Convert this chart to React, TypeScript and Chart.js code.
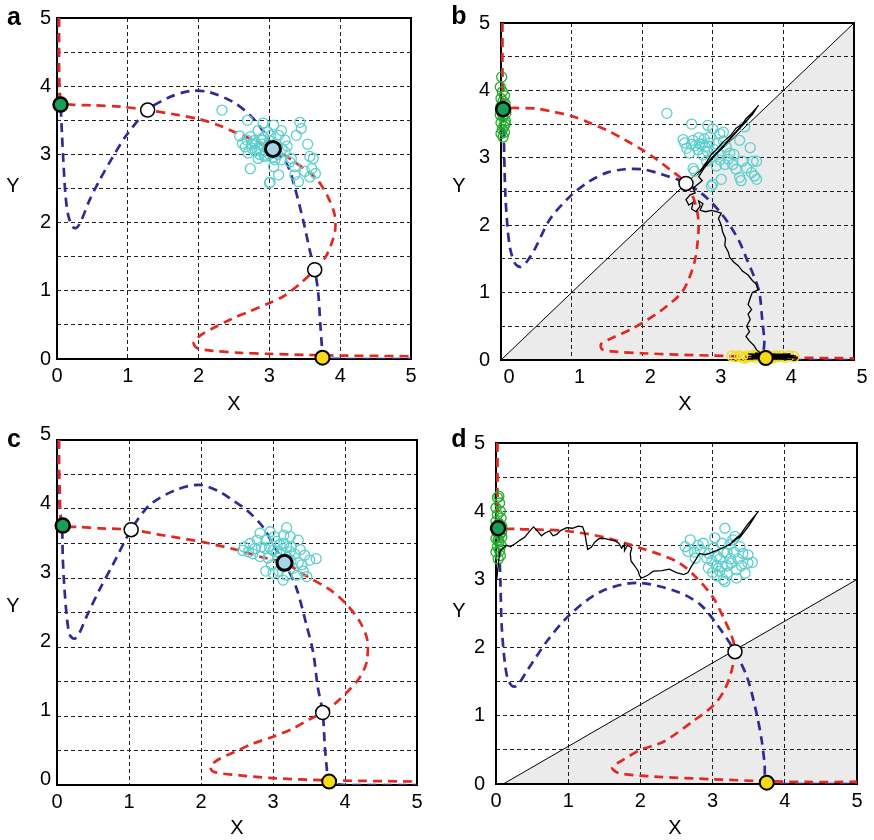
import React, { useEffect, useRef } from 'react';
import { Chart, registerables } from 'chart.js';

Chart.register(...registerables);

const FONT = "'Liberation Sans', Arial, Helvetica, sans-serif";

// ---- tick labels ----
const xTickLabels = ['0', '1', '2', '3', '4', '5'];
const yTickLabels = ['0', '1', '2', '3', '4', '5'];

// ---- colours ----
const RED = '#e3281f';
const BLUE = '#2f2b96';
const CYAN = '#5ccfcd';
const GREEN_FILL = '#15a155';
const LIGHTBLUE = '#a6d5ea';
const YELLOW = '#f7d916';
const GREEN_RING = '#22ad2c';
const YELLOW_RING = '#f0dc10';

// ================= panel a =================
const aRed = [
  [0.03, 5.0], [0.03, 4.6], [0.03, 4.2], [0.04, 3.9], [0.07, 3.76], [0.2, 3.73], [0.5, 3.72], [0.9, 3.7],
  [1.28, 3.65], [1.7, 3.58], [2.0, 3.52], [2.3, 3.42], [2.5, 3.33], [2.75, 3.22], [2.95, 3.12], [3.1, 3.05],
  [3.3, 2.93], [3.5, 2.78], [3.67, 2.64], [3.83, 2.37], [3.92, 2.12], [3.93, 1.9], [3.88, 1.7], [3.79, 1.49],
  [3.64, 1.31], [3.45, 1.12], [3.2, 0.92], [3.0, 0.82], [2.7, 0.69], [2.45, 0.58], [2.2, 0.45], [2.03, 0.35],
  [1.93, 0.24], [1.98, 0.16], [2.2, 0.12], [2.6, 0.09], [3.0, 0.075], [3.5, 0.06], [4.0, 0.05], [4.5, 0.045], [5.0, 0.04],
];
const aBlue = [
  [0.02, 5.0], [0.02, 4.5], [0.03, 4.0], [0.05, 3.73], [0.07, 3.3], [0.09, 2.9], [0.12, 2.4], [0.16, 2.1],
  [0.22, 1.94], [0.27, 1.92], [0.33, 2.0], [0.46, 2.33], [0.6, 2.62], [0.77, 2.93], [0.98, 3.28], [1.28, 3.65],
  [1.57, 3.83], [1.88, 3.93], [2.16, 3.91], [2.5, 3.76], [2.73, 3.57], [2.92, 3.33], [3.05, 3.08], [3.25, 2.85],
  [3.36, 2.51], [3.48, 2.02], [3.58, 1.55], [3.64, 1.31], [3.69, 0.96], [3.72, 0.5], [3.74, 0.2], [3.75, 0.02],
  [4.0, 0.0], [5.0, 0.0],
];
const aCyan = [
  [2.33, 3.65], [2.69, 3.5], [2.91, 3.46], [3.43, 3.47], [3.06, 3.43], [3.17, 3.35], [3.38, 3.28], [2.58, 3.27],
  [2.73, 3.26], [3.54, 3.15], [2.66, 3.11], [2.8, 3.16], [2.89, 3.21], [3.57, 2.97], [3.62, 2.94], [3.22, 3.04],
  [3.29, 2.89], [3.36, 2.82], [2.73, 2.79], [3.06, 2.82], [3.13, 2.7], [3.36, 2.7], [3.41, 2.6], [3.57, 2.67],
  [3.6, 2.79], [3.01, 2.59], [2.84, 2.94], [2.94, 2.99], [2.75, 3.09], [2.68, 3.21], [3.22, 3.21], [3.13, 3.28],
  [2.84, 3.35], [2.98, 3.33], [3.31, 2.94], [3.17, 2.92], [3.08, 2.92], [2.85, 3.1], [2.9, 3.15], [2.95, 3.05],
  [3.0, 3.2], [2.8, 3.05], [2.92, 3.25], [3.0, 3.0], [2.75, 3.15], [2.97, 3.12], [3.1, 3.15], [2.86, 3.0],
  [2.7, 3.02], [3.05, 2.95], [2.93, 2.97], [2.78, 3.2], [3.12, 3.0], [3.02, 3.28], [3.18, 3.08], [3.25, 3.12],
  [2.62, 3.16], [3.45, 3.38], [3.5, 2.75], [3.65, 2.72], [3.0, 2.58],
];
const aGreenPt = [[0.05, 3.73]];
const aWhitePts = [[1.28, 3.65], [3.64, 1.31]];
const aCenterPt = [[3.05, 3.08]];
const aYellowPt = [[3.75, 0.02]];

// ================= panel b =================
const bRed = [
  [0.02, 5.0], [0.02, 4.6], [0.02, 4.2], [0.03, 3.9], [0.06, 3.75], [0.2, 3.74], [0.5, 3.73], [0.75, 3.68],
  [1.0, 3.62], [1.25, 3.52], [1.5, 3.41], [1.75, 3.27], [2.0, 3.12], [2.2, 2.98], [2.4, 2.82], [2.55, 2.7],
  [2.62, 2.62], [2.72, 2.42], [2.78, 2.2], [2.8, 2.0], [2.78, 1.7], [2.74, 1.45], [2.66, 1.2], [2.56, 1.0],
  [2.42, 0.86], [2.25, 0.72], [2.05, 0.58], [1.85, 0.46], [1.6, 0.34], [1.42, 0.24], [1.43, 0.16], [1.65, 0.12],
  [2.0, 0.1], [2.5, 0.08], [3.0, 0.065], [3.5, 0.05], [4.0, 0.04], [4.5, 0.03], [5.0, 0.025],
];
const bBlue = [
  [0.01, 5.0], [0.01, 4.5], [0.02, 4.0], [0.03, 3.72], [0.04, 3.3], [0.06, 2.5], [0.09, 2.0], [0.13, 1.65],
  [0.2, 1.43], [0.28, 1.38], [0.36, 1.45], [0.48, 1.65], [0.7, 2.1], [1.0, 2.45], [1.25, 2.65], [1.5, 2.78],
  [1.75, 2.83], [2.0, 2.83], [2.2, 2.78], [2.35, 2.73], [2.5, 2.68], [2.62, 2.62], [2.78, 2.52], [2.92, 2.4],
  [3.1, 2.2], [3.24, 2.0], [3.38, 1.75], [3.48, 1.5], [3.58, 1.25], [3.66, 1.0], [3.7, 0.6], [3.73, 0.3],
  [3.74, 0.05], [4.0, 0.0], [5.0, 0.0],
];
const bDiagonal = [[0, 0], [5, 5]];
const bCyan = [
  [2.35, 3.66], [2.7, 3.5], [2.93, 3.48], [3.0, 3.43], [3.45, 3.46], [3.38, 3.26], [3.53, 3.15], [2.58, 3.27],
  [2.72, 3.26], [2.63, 3.14], [2.67, 3.07], [2.81, 3.21], [2.96, 3.31], [3.1, 3.36], [3.19, 3.16], [3.24, 3.07],
  [3.1, 2.97], [3.17, 2.9], [3.33, 2.83], [3.38, 2.71], [3.57, 2.95], [3.62, 2.95], [3.55, 2.78], [3.59, 2.73],
  [3.62, 2.68], [3.4, 2.66], [3.12, 2.68], [3.0, 2.61], [2.98, 2.58], [2.74, 2.8], [2.91, 2.95], [3.0, 3.02],
  [2.86, 3.04], [2.79, 3.12], [3.05, 3.21], [2.89, 3.16], [2.85, 3.2], [2.92, 3.1], [2.75, 3.18], [3.02, 3.12],
  [2.88, 3.28], [3.08, 3.05], [2.95, 3.22], [3.15, 3.25], [2.7, 3.2], [3.22, 2.98], [3.28, 2.9], [3.05, 2.88],
  [2.8, 3.3], [3.15, 3.38], [2.6, 3.22], [3.48, 2.85], [3.42, 2.95], [3.3, 3.05], [2.72, 2.84],
];
const bGreenRings = [
  [0.01, 4.2], [-0.01, 4.05], [0.02, 3.98], [0.05, 3.92], [0.0, 3.88], [0.03, 3.84], [0.06, 3.8], [0.0, 3.76],
  [0.04, 3.7], [0.07, 3.66], [-0.01, 3.64], [0.03, 3.6], [0.06, 3.55], [0.0, 3.52], [0.04, 3.47], [0.02, 3.42],
  [0.05, 3.38], [0.0, 3.36], [0.03, 3.31], [0.06, 3.5], [0.01, 3.68],
];
const bYellowRings = [
  [3.27, 0.06], [3.32, 0.05], [3.38, 0.06], [3.42, 0.04], [3.48, 0.06], [3.52, 0.05], [3.56, 0.06], [3.6, 0.04],
  [3.66, 0.06], [3.7, 0.05], [3.78, 0.06], [3.82, 0.04], [3.88, 0.06], [3.92, 0.05], [3.97, 0.06], [4.02, 0.04],
  [4.08, 0.06], [4.15, 0.05], [3.45, 0.03], [3.85, 0.03], [3.62, 0.07], [3.74, 0.07],
];
const bTrajectory = [
  [3.65, 3.78], [3.55, 3.66], [3.47, 3.58], [3.42, 3.5], [3.33, 3.44], [3.25, 3.33], [3.15, 3.24], [3.05, 3.12],
  [2.98, 3.05], [2.92, 2.95], [2.87, 2.88], [2.82, 2.8], [2.88, 2.86], [2.97, 2.98], [3.08, 3.1], [3.2, 3.24],
  [3.32, 3.38], [3.45, 3.52], [3.56, 3.64], [3.62, 3.74], [3.5, 3.57], [3.35, 3.4], [3.18, 3.2], [3.0, 3.0],
  [2.88, 2.85], [2.8, 2.72], [2.85, 2.66], [2.78, 2.6], [2.72, 2.55], [2.75, 2.48], [2.68, 2.45], [2.62, 2.38],
  [2.66, 2.3], [2.72, 2.34], [2.7, 2.24], [2.76, 2.2], [2.82, 2.28], [2.8, 2.36], [2.86, 2.32], [2.82, 2.22],
  [2.9, 2.2], [2.98, 2.22], [3.05, 2.2], [3.12, 2.18], [3.08, 2.1], [3.12, 2.0], [3.14, 1.9], [3.18, 1.8],
  [3.17, 1.7], [3.22, 1.6], [3.24, 1.52], [3.3, 1.45], [3.36, 1.4], [3.42, 1.32], [3.5, 1.26], [3.56, 1.18],
  [3.62, 1.12], [3.64, 1.04], [3.56, 1.0], [3.53, 0.92], [3.5, 0.82], [3.55, 0.75], [3.5, 0.68], [3.53, 0.6],
  [3.48, 0.5], [3.52, 0.42], [3.47, 0.35], [3.52, 0.28], [3.58, 0.22], [3.62, 0.15], [3.68, 0.1], [3.72, 0.06],
  [3.5, 0.05], [3.9, 0.07], [4.12, 0.05], [3.55, 0.03], [4.05, 0.02], [3.6, 0.06], [4.15, 0.07], [3.52, 0.08],
  [4.0, 0.03], [3.5, 0.09], [4.18, 0.06], [3.48, 0.01], [4.1, 0.09], [3.55, 0.07], [4.2, 0.03], [3.6, 0.1],
  [4.05, 0.08], [3.5, 0.02], [4.12, 0.01], [3.58, 0.04], [3.7, 0.04],
];
const bGreenPt = [[0.03, 3.72]];
const bWhitePts = [[2.62, 2.62]];
const bYellowPt = [[3.75, 0.03]];

// ================= panel c =================
const cRed = [
  [0.03, 5.0], [0.03, 4.6], [0.04, 4.2], [0.05, 3.9], [0.09, 3.76], [0.3, 3.74], [0.6, 3.72], [1.03, 3.7],
  [1.47, 3.62], [1.98, 3.53], [2.49, 3.41], [2.85, 3.3], [3.16, 3.22], [3.46, 3.03], [3.79, 2.83], [4.02, 2.62],
  [4.21, 2.36], [4.31, 2.1], [4.3, 1.78], [4.2, 1.55], [4.06, 1.38], [3.85, 1.17], [3.69, 1.05], [3.5, 0.95],
  [3.28, 0.82], [3.0, 0.7], [2.72, 0.6], [2.45, 0.47], [2.26, 0.38], [2.13, 0.27], [2.18, 0.19], [2.54, 0.14],
  [3.0, 0.1], [3.7, 0.07], [4.2, 0.06], [5.0, 0.05],
];
const cBlue = [
  [0.02, 5.0], [0.02, 4.5], [0.04, 4.0], [0.07, 3.75], [0.08, 3.3], [0.1, 2.9], [0.14, 2.4], [0.18, 2.17],
  [0.24, 2.12], [0.3, 2.18], [0.41, 2.44], [0.59, 2.83], [0.78, 3.2], [1.03, 3.7], [1.29, 4.06], [1.66, 4.28],
  [1.98, 4.35], [2.26, 4.25], [2.45, 4.12], [2.63, 3.99], [2.86, 3.74], [3.02, 3.45], [3.16, 3.22], [3.32, 2.87],
  [3.46, 2.34], [3.56, 1.91], [3.62, 1.43], [3.69, 1.05], [3.72, 0.56], [3.75, 0.2], [3.76, 0.05], [4.0, 0.0],
  [5.0, 0.0],
];
const cCyan = [
  [3.19, 3.73], [2.68, 3.5], [2.66, 3.38], [2.82, 3.65], [2.96, 3.67], [3.35, 3.55], [3.38, 3.41], [3.44, 3.33],
  [3.51, 3.26], [3.47, 3.02], [3.14, 2.97], [2.98, 3.19], [2.82, 3.31], [2.89, 3.43], [3.05, 3.53], [3.24, 3.38],
  [3.28, 3.14], [3.0, 3.07], [3.1, 3.48], [2.75, 3.43], [3.24, 3.6], [3.4, 3.19], [3.07, 3.29], [2.93, 3.29],
  [3.19, 3.04], [3.33, 3.04], [2.84, 3.45], [3.19, 3.45], [3.0, 3.4], [3.1, 3.35], [3.15, 3.5], [3.05, 3.38],
  [2.95, 3.45], [3.2, 3.3], [3.25, 3.25], [3.12, 3.18], [3.3, 3.35], [2.9, 3.55], [3.02, 3.6], [3.15, 3.62],
  [2.78, 3.55], [2.72, 3.35], [2.6, 3.45], [3.35, 3.22], [3.42, 3.1], [3.25, 3.45], [3.08, 3.1], [2.9, 3.1],
  [2.58, 3.4], [3.6, 3.28],
];
const cGreenPt = [[0.08, 3.76]];
const cWhitePts = [[1.03, 3.7], [3.69, 1.05]];
const cCenterPt = [[3.16, 3.22]];
const cYellowPt = [[3.78, 0.05]];

// ================= panel d =================
const dRed = [
  [0.02, 5.0], [0.02, 4.6], [0.02, 4.2], [0.03, 3.9], [0.06, 3.76], [0.3, 3.74], [0.6, 3.73], [0.98, 3.71],
  [1.49, 3.62], [2.0, 3.46], [2.51, 3.26], [2.78, 3.02], [3.01, 2.73], [3.15, 2.44], [3.27, 2.15], [3.31, 1.94],
  [3.25, 1.61], [3.15, 1.35], [3.01, 1.15], [2.74, 0.93], [2.32, 0.62], [2.0, 0.5], [1.77, 0.36], [1.61, 0.24],
  [1.7, 0.16], [2.18, 0.11], [3.0, 0.07], [3.76, 0.04], [4.3, 0.03], [5.0, 0.03],
];
const dBlue = [
  [0.01, 5.0], [0.01, 4.5], [0.02, 4.0], [0.03, 3.76], [0.05, 3.3], [0.06, 3.0], [0.08, 2.3], [0.12, 1.8],
  [0.16, 1.55], [0.22, 1.44], [0.29, 1.44], [0.43, 1.66], [0.71, 2.1], [1.03, 2.49], [1.45, 2.82], [1.95, 2.95],
  [2.51, 2.82], [2.83, 2.63], [3.06, 2.34], [3.31, 1.94], [3.48, 1.56], [3.61, 1.03], [3.68, 0.64], [3.72, 0.3],
  [3.75, 0.03], [4.0, 0.0], [5.0, 0.0],
];
const dDiagonal = [[0.1, 0], [5, 3.0]];
const dCyan = [
  [3.17, 3.75], [2.69, 3.58], [2.66, 3.41], [2.76, 3.31], [2.87, 3.53], [3.03, 3.61], [3.31, 3.63], [3.38, 3.48],
  [3.49, 3.36], [3.49, 3.24], [3.45, 3.09], [3.33, 3.02], [3.17, 2.97], [3.06, 3.05], [2.94, 3.17], [2.92, 3.31],
  [3.06, 3.34], [3.2, 3.39], [3.26, 3.24], [3.13, 3.19], [3.01, 3.46], [3.24, 3.51], [2.83, 3.44], [3.33, 3.14],
  [3.2, 3.09], [2.99, 3.27], [3.13, 3.53], [3.1, 3.3], [3.15, 3.4], [3.25, 3.3], [3.05, 3.2], [3.2, 3.2],
  [3.3, 3.4], [3.1, 3.12], [2.95, 3.38], [3.35, 3.3], [3.15, 3.0], [2.8, 3.5], [2.75, 3.4], [3.4, 3.2],
  [3.0, 3.1], [3.28, 3.58], [2.62, 3.48], [3.55, 3.25], [3.42, 3.38],
];
const dGreenRings = [
  [0.02, 4.2], [0.05, 4.12], [0.0, 4.05], [0.06, 4.0], [0.02, 3.95], [0.07, 3.9], [0.0, 3.85], [0.04, 3.82],
  [0.08, 3.78], [0.01, 3.7], [0.05, 3.66], [0.08, 3.62], [0.0, 3.6], [0.04, 3.55], [0.07, 3.5], [0.02, 3.48],
  [0.05, 3.42], [0.0, 3.4], [0.06, 3.35], [0.03, 3.3], [0.04, 4.22], [0.08, 3.7], [-0.01, 3.75], [0.03, 3.58],
];
const dTrajectory = [
  [3.63, 3.99], [3.52, 3.85], [3.44, 3.74], [3.38, 3.65], [3.3, 3.58], [3.38, 3.62], [3.5, 3.78], [3.6, 3.95],
  [3.48, 3.8], [3.36, 3.62], [3.25, 3.52], [3.12, 3.45], [3.0, 3.4], [2.9, 3.36], [2.82, 3.38], [2.76, 3.28],
  [2.7, 3.18], [2.66, 3.1], [2.6, 3.07], [2.5, 3.1], [2.4, 3.15], [2.3, 3.13], [2.18, 3.12], [2.1, 3.06],
  [2.02, 3.02], [1.99, 3.05], [1.97, 3.12], [1.92, 3.2], [1.87, 3.27], [1.86, 3.38], [1.88, 3.46], [1.82, 3.5],
  [1.78, 3.42], [1.78, 3.51], [1.74, 3.46], [1.7, 3.53], [1.64, 3.57], [1.58, 3.58], [1.5, 3.6], [1.43, 3.6],
  [1.37, 3.55], [1.32, 3.47], [1.27, 3.44], [1.25, 3.55], [1.23, 3.68], [1.2, 3.77], [1.14, 3.78], [1.06, 3.75],
  [0.98, 3.76], [0.9, 3.72], [0.84, 3.66], [0.79, 3.64], [0.74, 3.71], [0.68, 3.68], [0.63, 3.64], [0.58, 3.7],
  [0.52, 3.77], [0.46, 3.7], [0.4, 3.62], [0.34, 3.58], [0.26, 3.52], [0.2, 3.48], [0.15, 3.5], [0.1, 3.46],
  [0.06, 3.42], [0.04, 3.3], [0.02, 3.1], [0.01, 3.0],
];
const dGreenPt = [[0.03, 3.75]];
const dWhitePts = [[3.31, 1.94]];
const dYellowPt = [[3.75, 0.02]];

// ---------- dataset helpers ----------
const xy = (a: number[][]) => a.map(([x, y]) => ({ x, y }));

const dashed = (data: number[][], color: string, order: number) => ({
  data: xy(data), showLine: true, borderColor: color, borderWidth: 2.7, borderDash: [9, 6],
  pointRadius: 0, tension: 0.3, fill: false, order,
});
const solidLine = (data: number[][], order: number) => ({
  data: xy(data), showLine: true, borderColor: '#000', borderWidth: 1.3, pointRadius: 0, tension: 0, fill: false, order,
});
const rings = (data: number[][], color: string, order: number) => ({
  data: xy(data), showLine: false, pointRadius: 5, pointBorderWidth: 1.3, pointBorderColor: color,
  pointBackgroundColor: 'rgba(0,0,0,0)', clip: false, order,
});
const marker = (data: number[][], fill: string, bw: number, r: number, order: number) => ({
  data: xy(data), showLine: false, pointRadius: r, pointBorderWidth: bw, pointBorderColor: '#000',
  pointBackgroundColor: fill, clip: false, order,
});
const wedge = (data: number[][], order: number) => ({
  type: 'line', data: xy(data), borderColor: '#000', borderWidth: 1, pointRadius: 0, tension: 0,
  fill: 'origin', backgroundColor: 'rgba(0,0,0,0.08)', order,
});

type PanelCfg = {
  letter: string; left: number; top: number;
  area: { l: number; t: number; r: number; b: number };
  xLabelOffset: number; yLabelOffset: number; yPad: number; xPad: number;
  letterPos: [number, number]; yTitle: [number, number]; xTitle: [number, number];
  datasets: any[];
};

const W = 437;
const H = 420;

const panels: PanelCfg[] = [
  {
    letter: 'a', left: 0, top: 0, area: { l: 57, t: 15, r: 411, b: 359 },
    xLabelOffset: 0, yLabelOffset: 0, yPad: 6, xPad: 5,
    letterPos: [14, 18], yTitle: [13, 186], xTitle: [234, 404],
    datasets: [
      marker(aGreenPt, GREEN_FILL, 2.5, 7, 1),
      marker(aWhitePts, '#ffffff', 1.5, 7, 1),
      marker(aCenterPt, LIGHTBLUE, 3, 7.5, 1),
      marker(aYellowPt, YELLOW, 2, 7, 1),
      rings(aCyan, CYAN, 4),
      dashed(aRed, RED, 6),
      dashed(aBlue, BLUE, 7),
    ],
  },
  {
    letter: 'b', left: 437, top: 0, area: { l: 64, t: 15, r: 417, b: 360 },
    xLabelOffset: 8, yLabelOffset: 0, yPad: 11, xPad: 5,
    letterPos: [22, 17], yTitle: [22, 186], xTitle: [248, 404],
    datasets: [
      marker(bGreenPt, GREEN_FILL, 2.5, 7, 1),
      marker(bWhitePts, '#ffffff', 1.5, 7, 1),
      marker(bYellowPt, YELLOW, 2, 7, 1),
      solidLine(bTrajectory, 2),
      rings(bYellowRings, YELLOW_RING, 3),
      rings(bGreenRings, GREEN_RING, 3),
      rings(bCyan, CYAN, 4),
      dashed(bRed, RED, 6),
      dashed(bBlue, BLUE, 7),
      wedge(bDiagonal, 9),
    ],
  },
  {
    letter: 'c', left: 0, top: 420, area: { l: 57, t: 20, r: 417, b: 365 },
    xLabelOffset: 0, yLabelOffset: -6, yPad: 6, xPad: 5,
    letterPos: [14, 20], yTitle: [13, 186], xTitle: [237, 408],
    datasets: [
      marker(cGreenPt, GREEN_FILL, 2.5, 7, 1),
      marker(cWhitePts, '#ffffff', 1.5, 7, 1),
      marker(cCenterPt, LIGHTBLUE, 3, 7.5, 1),
      marker(cYellowPt, YELLOW, 2, 7, 1),
      rings(cCyan, CYAN, 4),
      dashed(cRed, RED, 6),
      dashed(cBlue, BLUE, 7),
    ],
  },
  {
    letter: 'd', left: 437, top: 420, area: { l: 59, t: 21, r: 420, b: 364 },
    xLabelOffset: 0, yLabelOffset: 0, yPad: 11, xPad: 5,
    letterPos: [22, 20], yTitle: [22, 191], xTitle: [238, 408],
    datasets: [
      marker(dGreenPt, GREEN_FILL, 2.5, 7, 1),
      marker(dWhitePts, '#ffffff', 1.5, 7, 1),
      marker(dYellowPt, YELLOW, 2, 7, 1),
      solidLine(dTrajectory, 2),
      rings(dGreenRings, GREEN_RING, 3),
      rings(dCyan, CYAN, 4),
      dashed(dRed, RED, 6),
      dashed(dBlue, BLUE, 7),
      wedge(dDiagonal, 9),
    ],
  },
];

function buildConfig(p: PanelCfg): any {
  const decor = {
    id: 'decor',
    beforeDatasetsDraw(chart: any) {
      const { ctx, chartArea } = chart;
      ctx.save();
      ctx.strokeStyle = '#000';
      ctx.lineWidth = 2;
      ctx.strokeRect(chartArea.left, chartArea.top, chartArea.right - chartArea.left, chartArea.bottom - chartArea.top);
      ctx.restore();
    },
    afterDraw(chart: any) {
      const ctx = chart.ctx;
      ctx.save();
      ctx.fillStyle = '#000';
      ctx.textAlign = 'center';
      ctx.textBaseline = 'middle';
      ctx.font = `bold 25px ${FONT}`;
      ctx.fillText(p.letter, p.letterPos[0], p.letterPos[1]);
      ctx.font = `20px ${FONT}`;
      ctx.fillText('Y', p.yTitle[0], p.yTitle[1]);
      ctx.fillText('X', p.xTitle[0], p.xTitle[1]);
      ctx.restore();
    },
  };
  const gridCommon = { color: '#222', lineWidth: 1, drawTicks: false };
  return {
    type: 'scatter',
    data: { datasets: p.datasets },
    options: {
      animation: false,
      responsive: false,
      maintainAspectRatio: false,
      events: [],
      layout: { padding: { left: 0, top: p.area.t, right: W - p.area.r, bottom: 0 } },
      plugins: { legend: { display: false }, tooltip: { enabled: false } },
      scales: {
        x: {
          type: 'linear', min: 0, max: 5,
          grid: gridCommon,
          border: { display: false, dash: [4, 3] },
          ticks: {
            stepSize: 1, autoSkip: false, maxRotation: 0, padding: p.xPad, labelOffset: p.xLabelOffset,
            color: '#000', font: { family: FONT, size: 20 },
            callback: (v: number) => (Number.isInteger(v) ? xTickLabels[v] : ''),
          },
          afterFit: (s: any) => { s.height = H - p.area.b; },
        },
        y: {
          type: 'linear', min: 0, max: 5,
          grid: gridCommon,
          border: { display: false, dash: [4, 3] },
          ticks: {
            stepSize: 0.5, autoSkip: false, padding: p.yPad, labelOffset: p.yLabelOffset,
            color: '#000', font: { family: FONT, size: 20 },
            callback: (v: number) => (Number.isInteger(v) ? yTickLabels[v] : ''),
          },
          afterFit: (s: any) => { s.width = p.area.l; },
        },
      },
    },
    plugins: [decor],
  };
}

function Panel({ cfg }: { cfg: PanelCfg }) {
  const ref = useRef<HTMLCanvasElement>(null);
  useEffect(() => {
    const chart = new Chart(ref.current as HTMLCanvasElement, buildConfig(cfg));
    return () => chart.destroy();
  }, [cfg]);
  return (
    <canvas
      ref={ref}
      width={W}
      height={H}
      style={{ position: 'absolute', left: cfg.left, top: cfg.top, width: W, height: H }}
    />
  );
}

export default function App() {
  return (
    <div style={{ position: 'absolute', left: 0, top: 0, width: 874, height: 840, background: '#fff' }}>
      {panels.map((p) => (
        <Panel key={p.letter} cfg={p} />
      ))}
    </div>
  );
}
